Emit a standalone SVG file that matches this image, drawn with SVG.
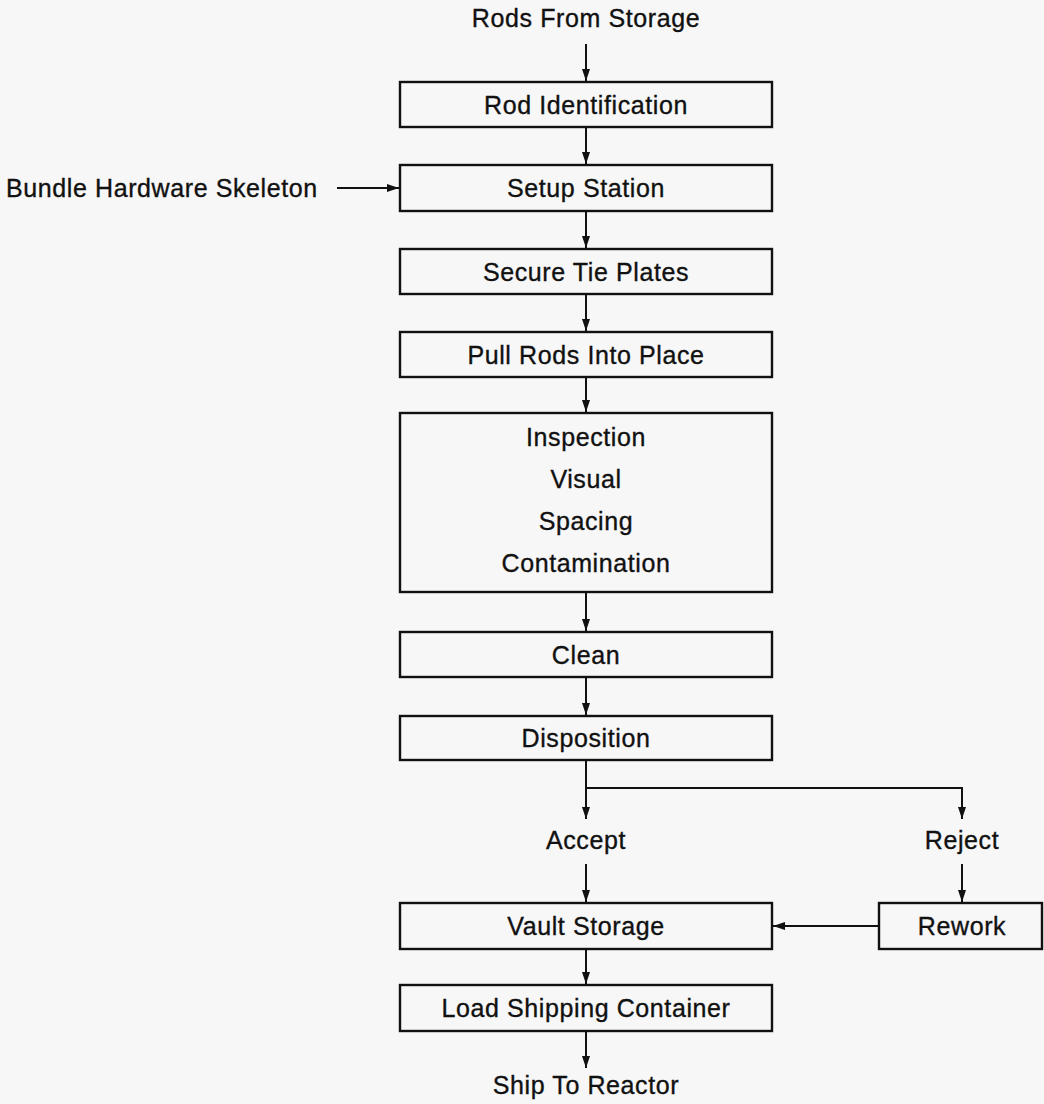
<svg xmlns="http://www.w3.org/2000/svg" width="1044" height="1104" viewBox="0 0 1044 1104">
<defs>
<marker id="ah" viewBox="0 0 12 8" refX="12" refY="4" markerWidth="12" markerHeight="8" markerUnits="userSpaceOnUse" orient="auto">
<path d="M0,0 L12,4 L0,8 Z" fill="#111"/>
</marker>
</defs>
<style>
.bg{fill:#f7f7f7}
.box{fill:none;stroke:#111;stroke-width:2.4}
.t{font-family:"Liberation Sans",Arial,Helvetica,sans-serif;font-size:25px;letter-spacing:0.6px;fill:#111;stroke:#111;stroke-width:0.35;text-anchor:middle}
.tl{font-family:"Liberation Sans",Arial,Helvetica,sans-serif;font-size:25px;letter-spacing:0.6px;fill:#111;stroke:#111;stroke-width:0.35;text-anchor:start}
.c{fill:none;stroke:#111;stroke-width:2}
.ca{fill:none;stroke:#111;stroke-width:2;marker-end:url(#ah)}
</style>
<rect class="bg" x="0" y="0" width="1044" height="1104"/>

<g id="connectors">
<line class="ca" x1="586" y1="44" x2="586" y2="81"/>
<line class="ca" x1="586" y1="128" x2="586" y2="164"/>
<line class="ca" x1="337" y1="188" x2="399" y2="188"/>
<line class="ca" x1="586" y1="212" x2="586" y2="248"/>
<line class="ca" x1="586" y1="295" x2="586" y2="331"/>
<line class="ca" x1="586" y1="378" x2="586" y2="412"/>
<line class="ca" x1="586" y1="593" x2="586" y2="631"/>
<line class="ca" x1="586" y1="678" x2="586" y2="715"/>
<line class="ca" x1="586" y1="761" x2="586" y2="819"/>
<polyline class="ca" points="586,788 962,788 962,819"/>
<line class="ca" x1="586" y1="864" x2="586" y2="902"/>
<line class="ca" x1="962" y1="864" x2="962" y2="902"/>
<line class="ca" x1="879" y1="926" x2="773" y2="926"/>
<line class="ca" x1="586" y1="950" x2="586" y2="984"/>
<line class="ca" x1="586" y1="1032" x2="586" y2="1068"/>
</g>

<g id="rods-from-storage"><text class="t" x="586" y="27">Rods From Storage</text></g>
<g id="bundle-hardware"><text class="tl" x="6" y="197">Bundle Hardware Skeleton</text></g>

<g id="rod-identification"><rect class="box" x="400" y="82" width="372" height="45"/><text class="t" x="586" y="114">Rod Identification</text></g>
<g id="setup-station"><rect class="box" x="400" y="165" width="372" height="46"/><text class="t" x="586" y="197">Setup Station</text></g>
<g id="secure-tie-plates"><rect class="box" x="400" y="249" width="372" height="45"/><text class="t" x="586" y="281">Secure Tie Plates</text></g>
<g id="pull-rods"><rect class="box" x="400" y="332" width="372" height="45"/><text class="t" x="586" y="364">Pull Rods Into Place</text></g>
<g id="inspection"><rect class="box" x="400" y="413" width="372" height="179"/>
<text class="t" x="586" y="446">Inspection</text>
<text class="t" x="586" y="488">Visual</text>
<text class="t" x="586" y="530">Spacing</text>
<text class="t" x="586" y="572">Contamination</text></g>
<g id="clean"><rect class="box" x="400" y="632" width="372" height="45"/><text class="t" x="586" y="664">Clean</text></g>
<g id="disposition"><rect class="box" x="400" y="716" width="372" height="44"/><text class="t" x="586" y="747">Disposition</text></g>
<g id="accept"><text class="t" x="586" y="849">Accept</text></g>
<g id="reject"><text class="t" x="962" y="849">Reject</text></g>
<g id="vault-storage"><rect class="box" x="400" y="903" width="372" height="46"/><text class="t" x="586" y="935">Vault Storage</text></g>
<g id="rework"><rect class="box" x="879" y="903" width="163" height="46"/><text class="t" x="962" y="935">Rework</text></g>
<g id="load-shipping"><rect class="box" x="400" y="985" width="372" height="46"/><text class="t" x="586" y="1017">Load Shipping Container</text></g>
<g id="ship-to-reactor"><text class="t" x="586" y="1094">Ship To Reactor</text></g>
</svg>
